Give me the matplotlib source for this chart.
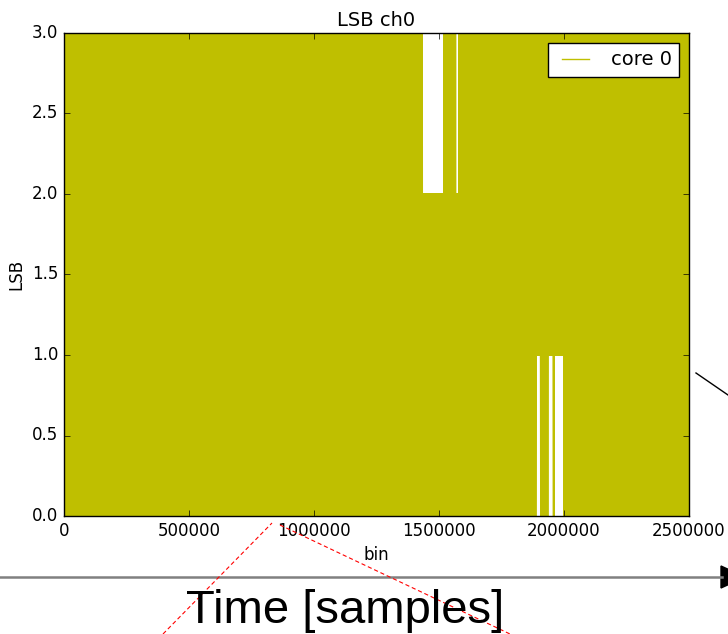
import numpy as np
import matplotlib
matplotlib.use("Agg")
import matplotlib.pyplot as plt
from matplotlib.lines import Line2D
from matplotlib.patches import Polygon

plt.style.use('classic')

# envelope of the (very dense) LSB signal
seg_start = [0,       1434000, 1519000, 1568000, 1579000,
             1888000, 1907000, 1937000, 1958000, 1961000, 2000000]
seg_end   = [1434000, 1519000, 1568000, 1579000, 1888000,
             1907000, 1937000, 1958000, 1961000, 2000000, 2500000]
seg_lo    = [0, 0, 0, 0, 0, 1, 0, 1, 0, 1, 0]
seg_hi    = [3, 2, 3, 2, 3, 3, 3, 3, 3, 3, 3]
step = 1000  # sample spacing in bins

xs, ys = [], []
for s, e, lo, hi in zip(seg_start, seg_end, seg_lo, seg_hi):
    xx = np.arange(s, e, step)
    yy = np.where(np.arange(len(xx)) % 2 == 0, lo, hi)
    xs.append(xx)
    ys.append(yy)
x = np.concatenate(xs)
y = np.concatenate(ys)

W, H = 728, 634
fig = plt.figure(figsize=(W / 100, H / 100), dpi=100, facecolor='white')
ax = fig.add_axes([64 / W, (H - 516) / H, 625 / W, 483 / H])

ax.plot(x, y, color='y', lw=1.0, label='core 0')
ax.set_xlim(0, 2500000)
ax.set_ylim(0, 3.0)
ax.set_xticks([0, 500000, 1000000, 1500000, 2000000, 2500000])
ax.set_yticks(np.arange(0, 3.01, 0.5))
ax.ticklabel_format(style='plain', useOffset=False)
ax.set_title('LSB ch0', fontsize=14)
ax.set_xlabel('bin', fontsize=12)
ax.set_ylabel('LSB', fontsize=12)
ax.tick_params(labelsize=12)
ax.legend(loc='upper right', fontsize=14)

# slide decorations around the plot (figure pixel coordinates)
def px(xp, yp):
    return xp / W, 1 - yp / H

tf = fig.transFigure
(a, b), (c, d) = px(0, 577), px(722, 577)
fig.add_artist(Line2D([a, c], [b, d], color='#808080', lw=1.8, transform=tf))
fig.add_artist(Polygon([px(721, 566), px(721, 588), px(745, 577)], closed=True,
                       facecolor='black', edgecolor='black', transform=tf))

(a, b), (c, d) = px(696, 373), px(728, 395)
fig.add_artist(Line2D([a, c], [b, d], color='black', lw=1.0, transform=tf))

for p0, p1 in [((163, 634), (272, 523)), ((280, 525), (510, 634))]:
    (a, b), (c, d) = px(*p0), px(*p1)
    fig.add_artist(Line2D([a, c], [b, d], color='red', lw=0.8, ls='--',
                          dashes=(3, 2), transform=tf))

tx, ty = px(345, 623)
fig.text(tx, ty, 'Time [samples]', fontsize=34, family='Liberation Sans',
         ha='center', va='baseline')

fig.savefig('out.png', dpi=100, facecolor='white')
